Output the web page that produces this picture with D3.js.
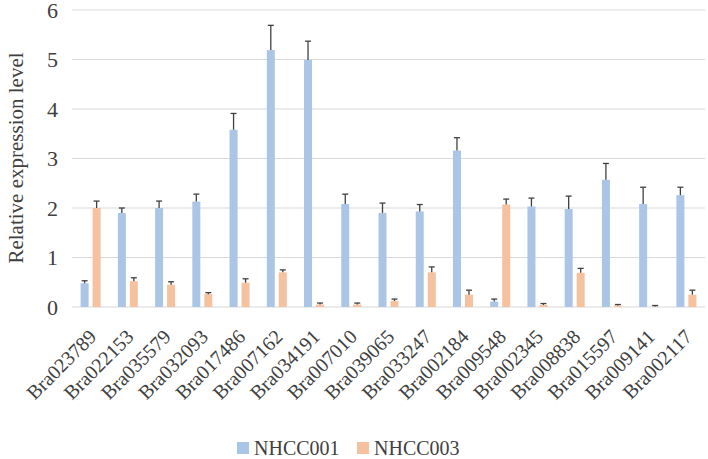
<!DOCTYPE html>
<html>
<head>
<meta charset="utf-8">
<script src="https://cdn.jsdelivr.net/npm/d3@7"></script>
<style>
  body { margin: 0; background: #fff; }
</style>
</head>
<body>
<div id="chart"></div>
<script>
// chart size
const width = 708;
const height = 459;
const serif = "'Liberation Serif'";

// data
const genes = ["Bra023789", "Bra022153", "Bra035579", "Bra032093", "Bra017486", "Bra007162",
  "Bra034191", "Bra007010", "Bra039065", "Bra033247", "Bra002184", "Bra009548",
  "Bra002345", "Bra008838", "Bra015597", "Bra009141", "Bra002117"];
const seriesNames = ["NHCC001", "NHCC003"];
const nhcc001 = [0.48, 1.9, 2.0, 2.13, 3.58, 5.19, 4.99, 2.08, 1.9, 1.93, 3.16, 0.11, 2.03, 1.98, 2.57, 2.08, 2.26];
const nhcc001Err = [0.05, 0.1, 0.14, 0.15, 0.33, 0.5, 0.38, 0.2, 0.2, 0.14, 0.26, 0.05, 0.17, 0.26, 0.33, 0.34, 0.16];
const nhcc003 = [2.0, 0.52, 0.45, 0.26, 0.49, 0.7, 0.05, 0.05, 0.12, 0.7, 0.25, 2.07, 0.04, 0.69, 0.03, 0.01, 0.25];
const nhcc003Err = [0.14, 0.07, 0.06, 0.03, 0.08, 0.05, 0.03, 0.03, 0.04, 0.11, 0.09, 0.11, 0.03, 0.09, 0.02, 0.02, 0.09];
const yTicks = [0, 1, 2, 3, 4, 5, 6];

const colors = {"NHCC001": "#abc5e6", "NHCC003": "#f5c19e"};

const rows = [];
genes.forEach((g, i) => {
  rows.push({gene: g, series: "NHCC001", value: nhcc001[i], err: nhcc001Err[i]});
  rows.push({gene: g, series: "NHCC003", value: nhcc003[i], err: nhcc003Err[i]});
});

// scales
const x0 = d3.scaleBand().domain(genes).range([72, 705]);
const bw = x0.bandwidth();
const x1 = d3.scaleBand().domain(seriesNames).range([bw / 2 - 10, bw / 2 + 10]).paddingInner(1 / 3);
const y = d3.scaleLinear().domain([0, 6]).range([307, 10]);

const svg = d3.select("#chart").append("svg")
  .attr("width", width)
  .attr("height", height);

// gridlines
svg.append("g").selectAll("line")
  .data(yTicks)
  .enter().append("line")
  .attr("x1", 72).attr("x2", 705)
  .attr("y1", d => y(d)).attr("y2", d => y(d))
  .attr("stroke", "#d9d9d9").attr("stroke-width", 1);

// y tick labels
const yAxis = d3.axisLeft(y).tickValues(yTicks).tickFormat(d3.format("d")).tickSize(0).tickPadding(0);
const ya = svg.append("g").attr("transform", "translate(58,0)").call(yAxis);
ya.select(".domain").remove();
ya.selectAll("text")
  .style("font-family", serif).style("font-size", "22px").attr("fill", "#404040")
  .attr("dy", "0.34em");

// y axis title
svg.append("text")
  .attr("transform", "translate(23,158) rotate(-90)")
  .attr("text-anchor", "middle")
  .style("font-family", serif).style("font-size", "21px")
  .attr("fill", "#404040")
  .text("Relative expression level");

// bars
svg.append("g").selectAll("rect")
  .data(rows)
  .enter().append("rect")
  .attr("x", d => x0(d.gene) + x1(d.series))
  .attr("width", x1.bandwidth())
  .attr("y", d => y(d.value))
  .attr("height", d => y(0) - y(d.value))
  .attr("fill", d => colors[d.series]);

// error bars (upper only)
const eb = svg.append("g").attr("stroke", "#404040").attr("stroke-width", 1.3);
rows.forEach(d => {
  const cx = x0(d.gene) + x1(d.series) + x1.bandwidth() / 2;
  eb.append("line").attr("x1", cx).attr("x2", cx)
    .attr("y1", y(d.value)).attr("y2", y(d.value + d.err));
  eb.append("line").attr("x1", cx - 3).attr("x2", cx + 3)
    .attr("y1", y(d.value + d.err)).attr("y2", y(d.value + d.err));
});

// x labels
svg.append("g").selectAll("text")
  .data(genes)
  .enter().append("text")
  .attr("transform", d => `translate(${x0(d) + bw / 2 + 7},${338}) rotate(-45)`)
  .attr("text-anchor", "end")
  .style("font-family", serif).style("font-size", "20px")
  .attr("fill", "#404040")
  .text(d => d);

// legend
const legend = svg.append("g");
const legendX = [237, 357];
seriesNames.forEach((s, i) => {
  legend.append("rect")
    .attr("x", legendX[i]).attr("y", 442)
    .attr("width", 12).attr("height", 12)
    .attr("fill", colors[s]);
  legend.append("text")
    .attr("x", legendX[i] + 17).attr("y", 455)
    .style("font-family", serif).style("font-size", "20px")
    .attr("fill", "#404040")
    .text(s);
});
</script>
</body>
</html>
